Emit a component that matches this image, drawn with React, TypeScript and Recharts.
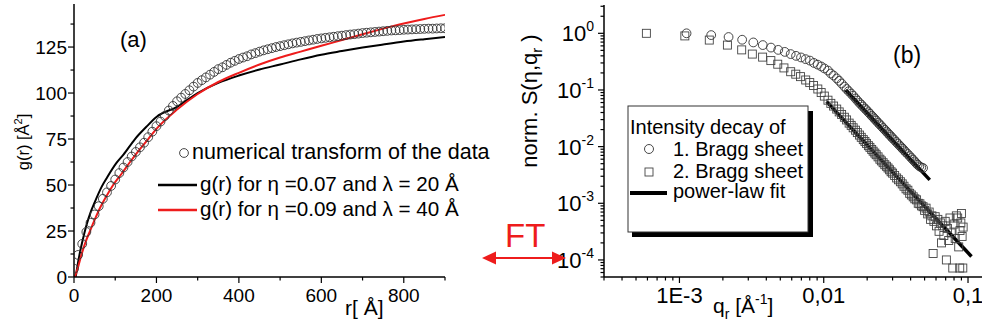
import { ComposedChart, Line, Scatter, XAxis, YAxis } from "recharts";

const FONT = "'Liberation Sans', Arial, Helvetica, sans-serif";
const RED = "#ee1c1c";
const INK = "#000";

// ---------- panel (a): g(r) ----------
const rNum = [
  0, 10, 20, 30, 40, 50, 60, 70, 80, 90, 100, 110, 120, 130, 140, 150, 160, 170, 180, 190,
  200, 210, 220, 230, 240, 250, 260, 270, 280, 290, 300, 310, 320, 330, 340, 350, 360, 370, 380, 390,
  400, 410, 420, 430, 440, 450, 460, 470, 480, 490, 500, 510, 520, 530, 540, 550, 560, 570, 580, 590,
  600, 610, 620, 630, 640, 650, 660, 670, 680, 690, 700, 710, 720, 730, 740, 750, 760, 770, 780, 790,
  800, 810, 820, 830, 840, 850, 860, 870, 880, 890, 900,
];
const gNum = [
  4.5, 12, 18, 24.5, 29.5, 34, 38.5, 42.5, 46, 49.5, 53, 56.5, 59.5, 62.5, 65.5, 68, 70.5, 73, 76, 79,
  82, 84.5, 87.5, 90.5, 93, 95.5, 97.5, 99.5, 101.5, 103.5, 105.5, 107, 108.5, 110, 111.5, 113, 114, 115.3, 116.5, 117.5,
  118.5, 119.3, 120, 121, 121.7, 122.5, 123.2, 123.8, 124.4, 125, 125.5, 126, 126.5, 127, 127.4, 127.8, 128.2, 128.6, 129, 129.4,
  129.7, 130, 130.3, 130.6, 130.9, 131.2, 131.5, 131.8, 132, 132.3, 132.6, 132.8, 133, 133.2, 133.4, 133.6, 133.8, 134, 134.1, 134.2,
  134.4, 134.5, 134.6, 134.7, 134.8, 134.9, 135, 135, 135.1, 135.2, 135.2,
];
const rEta07 = [4, 10, 15, 20, 30, 40, 50, 67, 80, 103, 120, 148, 175, 200, 250, 300, 350, 400, 450, 500, 550, 600, 650, 700, 750, 800, 850, 900];
const gEta07 = [0, 8, 14, 19, 28, 35, 40.5, 49, 54, 62, 66.5, 75, 81.5, 87, 92.5, 100, 105.5, 109.5, 112.8, 115.5, 118.3, 120.8, 122.8, 124.7, 126.4, 128, 129.3, 130.5];
const rEta09 = [2, 10, 18.6, 28, 38.8, 50, 63, 80, 95, 115, 136, 158, 180, 200, 250, 300, 350, 400, 450, 500, 550, 600, 650, 700, 750, 800, 850, 900];
const gEta09 = [0, 5.5, 12.5, 19, 25, 31, 37.5, 44.5, 50, 56, 62.5, 69, 75, 80.5, 91, 99.5, 106, 111, 115.5, 119.3, 122.5, 125.7, 128.8, 132, 135, 137.8, 140.3, 142.5];
const rTicks = [0, 100, 200, 300, 400, 500, 600, 700, 800, 900];
const gTicks = [0, 12.5, 25, 37.5, 50, 62.5, 75, 87.5, 100, 112.5, 125, 137.5];

// ---------- panel (b): normalised S(eta, q_r) ----------
const q1 = [
  0.00112, 0.00166, 0.00219, 0.00272, 0.00325, 0.00378, 0.00431, 0.00484, 0.00537, 0.0059,
  0.00643, 0.00696, 0.00749, 0.00802, 0.00855, 0.00908, 0.00961, 0.0101, 0.0107, 0.0112,
  0.0117, 0.0123, 0.0128, 0.0133, 0.0139, 0.0144, 0.0149, 0.0155, 0.016, 0.0166,
  0.0171, 0.0177, 0.0182, 0.0187, 0.0193, 0.0198, 0.0204, 0.0209, 0.0215, 0.022,
  0.0226, 0.0231, 0.0238, 0.0244, 0.0251, 0.0258, 0.0265, 0.0272, 0.0279, 0.0286,
  0.0293, 0.03, 0.0309, 0.0318, 0.0326, 0.0335, 0.0344, 0.0352, 0.0361, 0.037,
  0.0382, 0.0394, 0.0405, 0.0415, 0.0426, 0.0437, 0.0448, 0.046, 0.0474, 0.0488,
];
const s1 = [
  1.0, 0.93, 0.86, 0.77, 0.69, 0.62, 0.56, 0.51, 0.47, 0.43,
  0.4, 0.375, 0.35, 0.33, 0.3, 0.28, 0.26, 0.24, 0.22, 0.195,
  0.18, 0.16, 0.145, 0.13, 0.115, 0.104, 0.095, 0.086, 0.079, 0.071,
  0.065, 0.059, 0.055, 0.051, 0.047, 0.044, 0.0405, 0.038, 0.035, 0.033,
  0.0306, 0.0288, 0.0265, 0.0248, 0.023, 0.0213, 0.0198, 0.0185, 0.0172, 0.0161,
  0.0151, 0.0141, 0.0131, 0.0121, 0.0113, 0.0105, 0.0098, 0.0092, 0.0086, 0.008,
  0.0074, 0.0068, 0.0063, 0.0059, 0.0055, 0.0051, 0.0048, 0.0045, 0.0043, 0.0042,
];
const q2 = [
  0.00059, 0.00109, 0.00161, 0.00215, 0.0027, 0.0032, 0.00377, 0.0043, 0.0048, 0.0053,
  0.0059, 0.0064, 0.0069, 0.0075, 0.008, 0.0085, 0.0091, 0.0096, 0.0101, 0.0107,
  0.0112, 0.0117, 0.0123, 0.0128, 0.0133, 0.0139, 0.0144, 0.015, 0.0155, 0.016,
  0.0166, 0.0171, 0.0177, 0.0182, 0.0188, 0.0193, 0.0198, 0.0204, 0.0209, 0.0215,
  0.022, 0.0226, 0.0231, 0.0238, 0.0245, 0.0251, 0.0258, 0.0265, 0.0272, 0.0279,
  0.0286, 0.0293, 0.03, 0.031, 0.032, 0.033, 0.034, 0.035, 0.036, 0.0372,
  0.0383, 0.0394, 0.0405, 0.0417, 0.0428, 0.044, 0.0452, 0.0464, 0.0476, 0.0488,
  0.05, 0.0512, 0.0525, 0.0538, 0.055, 0.0562, 0.0573, 0.058, 0.0592, 0.0605,
  0.0618, 0.063, 0.0643, 0.0655, 0.0668, 0.068, 0.0695, 0.0708, 0.072, 0.0735,
  0.075, 0.0765, 0.0784, 0.08, 0.0815, 0.083, 0.0848, 0.0862, 0.0876, 0.088,
  0.0892, 0.09, 0.091, 0.092, 0.0925,
];
const s2 = [
  1.0, 0.9, 0.76, 0.62, 0.51, 0.43, 0.38, 0.33, 0.285, 0.245,
  0.21, 0.19, 0.172, 0.15, 0.135, 0.12, 0.104, 0.09, 0.078, 0.066,
  0.058, 0.052, 0.046, 0.041, 0.037, 0.033, 0.0296, 0.026, 0.0237, 0.0215,
  0.0195, 0.0177, 0.016, 0.0146, 0.0133, 0.0123, 0.0114, 0.0104, 0.0097, 0.0089,
  0.0083, 0.0077, 0.0072, 0.0066, 0.006, 0.0056, 0.0052, 0.0048, 0.0045, 0.0042,
  0.0039, 0.0036, 0.0034, 0.0031, 0.0028, 0.0026, 0.0024, 0.0022, 0.002, 0.0018,
  0.0017, 0.0015, 0.0014, 0.0013, 0.0012, 0.00115, 0.001, 0.00098, 0.0009, 0.00087,
  0.00075, 0.00082, 0.00065, 0.0007, 0.00052, 0.0006, 0.00013, 0.00048, 0.00058, 0.0004,
  0.00052, 0.00032, 0.00045, 0.0002, 0.0004, 0.00027, 0.00048, 0.0001, 0.00036, 0.00022,
  0.00055, 0.0003, 0.000072, 0.00043, 0.00024, 0.0006, 0.00055, 0.00017, 0.000072, 0.00033,
  0.00045, 0.00066, 0.00026, 0.000072, 0.00038,
];
const qFit1 = [0.0142, 0.0543];
const sFit1 = [0.1, 0.00259];
const qFit2 = [0.01047, 0.1057];
const sFit2 = [0.0622, 0.000115];
const qTickText: Record<string, string> = { "-3": "1E-3", "-2": "0,01", "-1": "0,1" };

const pts = (xs: number[], ys: number[]) => xs.map((x, i) => ({ x, y: ys[i] }));

function logTicks(lo: number, hi: number) {
  const out: number[] = [];
  for (let d = Math.floor(Math.log10(lo)); d <= Math.ceil(Math.log10(hi)); d++) {
    for (let m = 1; m <= 9; m++) {
      const v = Number((m * Math.pow(10, d)).toPrecision(3));
      if (v >= lo && v <= hi) out.push(v);
    }
  }
  return out;
}
const isDecade = (v: number) => Math.abs(Math.log10(v) - Math.round(Math.log10(v))) < 1e-6;

const qDomain = [3e-4, 0.125];
const sDomain = [5e-5, 3.16];

const XTickA = (p: any) => {
  const v = p.payload.value;
  const major = v % 200 === 0 && v < 900;
  return (
    <g>
      <line x1={p.x} x2={p.x} y1={p.y} y2={p.y + (major ? 6 : 3.5)} stroke={INK} strokeWidth={1.2} />
      {major && (
        <text x={p.x} y={p.y + 25} textAnchor="middle" fontSize={19} fontFamily={FONT} fill={INK}>
          {v}
        </text>
      )}
    </g>
  );
};

const YTickA = (p: any) => {
  const v = p.payload.value;
  const major = v % 25 === 0;
  return (
    <g>
      <line x1={p.x} x2={p.x - (major ? 6 : 3.5)} y1={p.y} y2={p.y} stroke={INK} strokeWidth={1.2} />
      {major && (
        <text x={p.x - 7} y={p.y + 7} textAnchor="end" fontSize={19} fontFamily={FONT} fill={INK}>
          {v}
        </text>
      )}
    </g>
  );
};

const XTickB = (p: any) => {
  const v = p.payload.value;
  const major = isDecade(v);
  return (
    <g>
      <line x1={p.x} x2={p.x} y1={p.y} y2={p.y + (major ? 6 : 3.5)} stroke={INK} strokeWidth={1.2} />
      {major && (
        <text x={p.x} y={p.y + 26} textAnchor="middle" fontSize={22} fontFamily={FONT} fill={INK}>
          {qTickText[String(Math.round(Math.log10(v)))]}
        </text>
      )}
    </g>
  );
};

const YTickB = (p: any) => {
  const v = p.payload.value;
  const major = isDecade(v);
  return (
    <g>
      <line x1={p.x} x2={p.x - (major ? 6 : 3.5)} y1={p.y} y2={p.y} stroke={INK} strokeWidth={1.2} />
      {major && (
        <text x={p.x - 10} y={p.y + 8} textAnchor="end" fontSize={22} fontFamily={FONT} fill={INK}>
          10
          <tspan dy={-10} fontSize={14}>
            {Math.round(Math.log10(v))}
          </tspan>
        </text>
      )}
    </g>
  );
};

const OpenCircle = (p: any) => <circle cx={p.cx} cy={p.cy} r={4.4} fill="none" stroke="#333" strokeWidth={0.9} />;
const OpenSquare = (p: any) => <rect x={p.cx - 4} y={p.cy - 4} width={8} height={8} fill="none" stroke="#444" strokeWidth={0.9} />;
const NoDot = () => <g />;

const axisLine = { stroke: INK, strokeWidth: 1.5 };

function PanelA() {
  return (
    <ComposedChart width={480} height={333} margin={{ top: 4, right: 35, bottom: 26, left: 34 }}>
      <XAxis type="number" dataKey="x" domain={[0, 900]} allowDataOverflow ticks={rTicks} interval={0}
        tickSize={0} tickMargin={0} tickLine={false} tick={(p: any) => <XTickA {...p} />} axisLine={axisLine} height={30} />
      <YAxis type="number" dataKey="y" domain={[0, 148.4]} allowDataOverflow ticks={gTicks} interval={0}
        tickSize={0} tickMargin={0} tickLine={false} tick={(p: any) => <YTickA {...p} />} axisLine={axisLine} width={40} />
      <Scatter data={pts(rNum, gNum)} dataKey="y" shape={OpenCircle} isAnimationActive={false} />
      <Line data={pts(rEta07, gEta07)} dataKey="y" type="monotone" stroke={INK} strokeWidth={2}
        dot={false} activeDot={false} isAnimationActive={false} />
      <Line data={pts(rEta09, gEta09)} dataKey="y" type="monotone" stroke={RED} strokeWidth={2}
        dot={false} activeDot={false} isAnimationActive={false} />
    </ComposedChart>
  );
}

function PanelB() {
  return (
    <ComposedChart width={502} height={333} margin={{ top: 5, right: 0, bottom: 26, left: 64 }}>
      <XAxis type="number" dataKey="x" scale="log" domain={qDomain} allowDataOverflow ticks={logTicks(qDomain[0], qDomain[1])}
        interval={0} tickSize={0} tickMargin={0} tickLine={false} tick={(p: any) => <XTickB {...p} />} axisLine={axisLine} height={30} />
      <YAxis type="number" dataKey="y" scale="log" domain={sDomain} allowDataOverflow ticks={logTicks(sDomain[0], sDomain[1])}
        interval={0} tickSize={0} tickMargin={0} tickLine={false} tick={(p: any) => <YTickB {...p} />} axisLine={axisLine} width={60} />
      <Scatter data={pts(q2, s2)} dataKey="y" shape={OpenSquare} isAnimationActive={false} />
      <Scatter data={pts(q1, s1)} dataKey="y" shape={OpenCircle} isAnimationActive={false} />
      <Line data={pts(qFit1, sFit1)} dataKey="y" type="linear" stroke={INK} strokeWidth={3.5}
        dot={NoDot} activeDot={false} isAnimationActive={false} />
      <Line data={pts(qFit2, sFit2)} dataKey="y" type="linear" stroke={INK} strokeWidth={3.5}
        dot={NoDot} activeDot={false} isAnimationActive={false} />
    </ComposedChart>
  );
}

function Annotations() {
  return (
    <svg width={982} height={333} style={{ position: "absolute", left: 0, top: 0, pointerEvents: "none" }}
      fontFamily={FONT} fill={INK}>
      {/* panel (a) */}
      <text x={120} y={47} fontSize={22}>(a)</text>
      <text transform="translate(29,142) rotate(-90)" textAnchor="middle" fontSize={16.5}>
        g(r) [Å<tspan dy={-7} fontSize={11}>2</tspan><tspan dy={7}>]</tspan>
      </text>
      <text x={345} y={315} fontSize={21}>r[ Å]</text>
      <circle cx={184} cy={153} r={4.4} fill="none" stroke="#333" strokeWidth={0.9} />
      <text x={192} y={159} fontSize={21.5}>numerical transform of the data</text>
      <line x1={158} x2={197} y1={185} y2={185} stroke={INK} strokeWidth={2.5} />
      <text x={200} y={191} fontSize={20.6}>g(r) for η =0.07 and λ = 20 Å</text>
      <line x1={158} x2={197} y1={210} y2={210} stroke={RED} strokeWidth={2.5} />
      <text x={200} y={216} fontSize={20.6}>g(r) for η =0.09 and λ = 40 Å</text>

      {/* FT arrow */}
      <text x={505} y={247} fontSize={33} fill={RED}>FT</text>
      <line x1={490} x2={558} y1={258} y2={258} stroke={RED} strokeWidth={2} />
      <polygon points="482,258 496,251.5 496,264.5" fill={RED} />
      <polygon points="566,258 552,251.5 552,264.5" fill={RED} />

      {/* panel (b) */}
      <text transform="translate(537,101) rotate(-90)" textAnchor="middle" fontSize={22}>
        norm. S(η,q<tspan dy={5} fontSize={15}>r</tspan><tspan dy={-5}> )</tspan>
      </text>
      <text x={713} y={313} fontSize={21}>
        q<tspan dy={6} fontSize={14}>r</tspan><tspan dy={-6}> [Å</tspan><tspan dy={-9} fontSize={14}>-1</tspan><tspan dy={9}>]</tspan>
      </text>
      <text x={893} y={63} fontSize={23}>(b)</text>

      <rect x={632} y={111} width={181} height={126} fill={INK} />
      <rect x={628} y={106} width={180} height={126} fill="#fff" stroke="#333" strokeWidth={1} />
      <text x={630} y={134} fontSize={20}>Intensity decay of</text>
      <circle cx={649} cy={149} r={4.5} fill="none" stroke="#333" strokeWidth={0.9} />
      <text x={673} y={156} fontSize={20}>1. Bragg sheet</text>
      <rect x={645} y={168} width={8} height={8} fill="none" stroke="#444" strokeWidth={0.9} />
      <text x={673} y={178} fontSize={20}>2. Bragg sheet</text>
      <line x1={630} x2={667} y1={193} y2={193} stroke={INK} strokeWidth={4} />
      <text x={673} y={198} fontSize={20}>power-law fit</text>
    </svg>
  );
}

export default function App() {
  return (
    <div style={{ position: "absolute", left: 0, top: 0, width: 982, height: 333, background: "#fff", fontFamily: FONT }}>
      <div style={{ position: "absolute", left: 0, top: 0 }}>
        <PanelA />
      </div>
      <div style={{ position: "absolute", left: 480, top: 0 }}>
        <PanelB />
      </div>
      <Annotations />
    </div>
  );
}
